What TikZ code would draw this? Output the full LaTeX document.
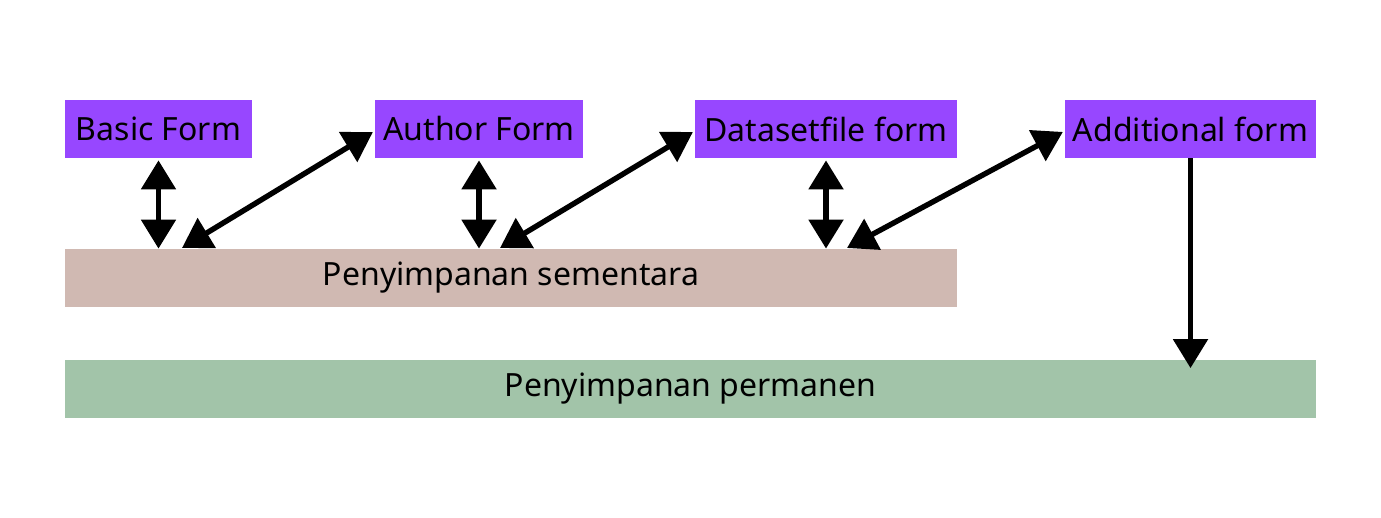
\documentclass[tikz,border=0pt]{standalone}
\usepackage{fontspec}
\setmainfont{Noto Sans}
\usetikzlibrary{arrows.meta,calc,positioning}
\definecolor{formpurple}{HTML}{9747FF}
\definecolor{tempbrown}{HTML}{D0B9B2}
\definecolor{permgreen}{HTML}{A2C4A9}

\begin{document}
\begin{tikzpicture}[
  x=0.5pt, y=-0.5pt,
  >={Triangle[length=14.5pt,width=17pt]},
  form/.style={fill=formpurple, minimum height=29pt, inner sep=0pt, font=\fontsize{16}{19}\selectfont},
  store/.style={minimum height=29pt, inner sep=0pt, font=\fontsize{16}{19}\selectfont},
  link/.style={<->, line width=2.7pt},
  flow/.style={->, line width=2.7pt}
]
  \useasboundingbox (0,0) rectangle (1381,518);

  \node[form, minimum width=93.5pt] (basic) at (158.5,129) {Basic Form};
  \node[form, minimum width=104pt] (author) at (479,129) {Author Form};
  \node[form, minimum width=131pt] (dataset) at (826,129) {Datasetfile form};
  \node[form, minimum width=125.5pt] (additional) at (1190.5,129) {Additional form};

  \node[store, fill=tempbrown, minimum width=446pt] (temp) at (511,278) {Penyimpanan sementara};
  \node[store, fill=permgreen, minimum width=625.5pt] (perm) at (690.5,388.5) {Penyimpanan permanen};

  \foreach \f in {basic,author,dataset}
    \draw[link, shorten <=1pt] (\f.south) -- (\f.south |- temp.north);

  \coordinate (d1) at (182,248);
  \coordinate (d2) at (500,248);
  \coordinate (d3) at (847,248);
  \foreach \c/\f in {d1/author,d2/dataset,d3/additional}
    \draw[link, shorten >=1pt] (\c) -- ([yshift=-1pt]\f.west);

  \draw[flow, shorten >=-4.5pt] (additional.south) -- (additional.south |- perm.north);
\end{tikzpicture}
\end{document}
